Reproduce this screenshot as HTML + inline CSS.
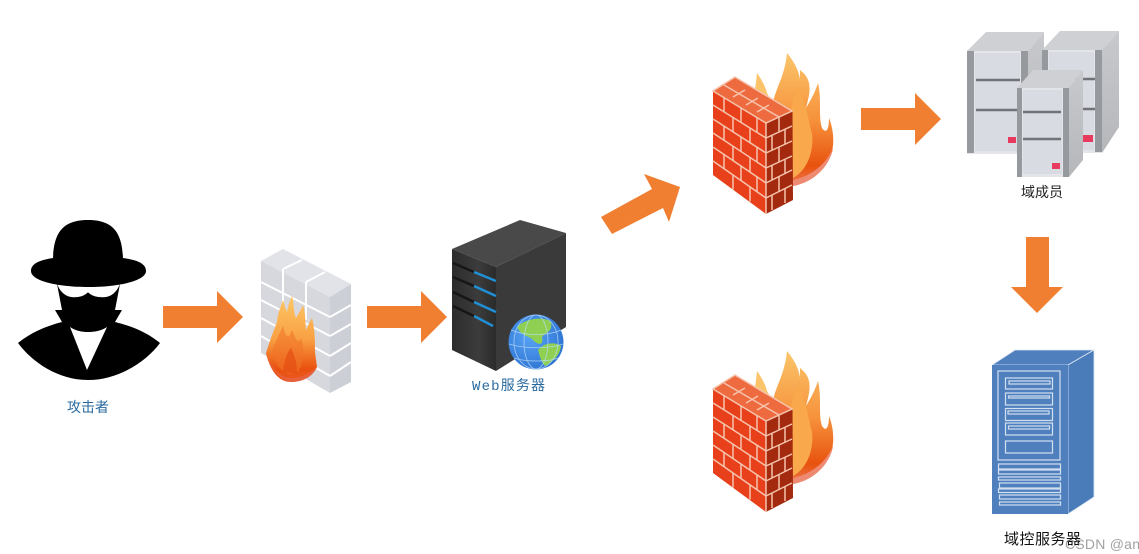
<!DOCTYPE html>
<html><head><meta charset="utf-8"><style>
html,body{margin:0;padding:0;background:#fff}
svg{display:block}
text{font-family:"Liberation Sans","WenQuanYi Zen Hei","Noto Sans CJK SC",sans-serif}
</style></head><body>
<svg width="1139" height="554" viewBox="0 0 1139 554" xmlns="http://www.w3.org/2000/svg">
<defs>
<linearGradient id="fl" x1="0" y1="0" x2="0" y2="1"><stop offset="0" stop-color="#fdc866"/><stop offset=".5" stop-color="#f9a043"/><stop offset=".85" stop-color="#e9500f"/><stop offset="1" stop-color="#ea5a22"/></linearGradient>
<linearGradient id="fl2" x1="0" y1="0" x2="0" y2="1"><stop offset="0" stop-color="#fbc56a"/><stop offset=".5" stop-color="#f6923c"/><stop offset=".85" stop-color="#e8520f"/><stop offset="1" stop-color="#ee7a50"/></linearGradient>
<linearGradient id="srvf" x1="0" y1="0" x2="1" y2="0"><stop offset="0" stop-color="#2c2c2c"/><stop offset=".6" stop-color="#3c3c3c"/><stop offset="1" stop-color="#2b2b2b"/></linearGradient>
<linearGradient id="side" x1="0" y1="0" x2="0" y2="1"><stop offset="0" stop-color="#c8c9cc"/><stop offset="1" stop-color="#b6b7ba"/></linearGradient>
<radialGradient id="glb" cx=".4" cy=".4" r=".7"><stop offset="0" stop-color="#59a4f5"/><stop offset="1" stop-color="#2a70d0"/></radialGradient>
<g id="brick">
<path d="M750 112C752 100 755 95 757 73C762 80 766 88 767 93L771 100 770 112Z" fill="#fbc46a"/>
<path d="M772 120C770 92 784 84 787 53C796 64 802 76 800 90L800 70C808 76 812 84 808 100L806 108C812 98 815 92 818 83C822 100 818 116 822 128C826 134 829 130 829 118C834 130 834 145 832 150L833 148C830 165 815 182 793 186L780 150Z" fill="url(#fl2)"/>
<path d="M790 115C792 100 796 92 798 85C806 104 808 118 812 134C814 150 808 170 793 178Z" fill="#f9a84c"/>
<path d="M833 148C830 165 815 182 793 186L793 180C812 176 826 164 833 148Z" fill="#ef8a72"/>
<path d="M713 91L735 77 792 111 766 123Z" fill="#ee6b3f"/>
<path d="M713 91L766 123V214L713 175Z" fill="#e8401a"/>
<path d="M766 123L792.500 111 793 200 766 214Z" fill="#a32a0e"/>
<g stroke="#f6c3ac" stroke-width="1.500" fill="none">
<path d="M713 91L735 77 792 111 766 123ZM766 123V214M724 85L779 117M733 97L745 90M746 105L758 98M757 112L769 105"/>
<path d="M713 105L766 138M713 119L766 153M713 133L766 168M713 147L766 183M713 161L766 198"/>
<path d="M766 138L792 126M766 153L792 141M766 168L792 156M766 183L792 170M766 198L792 185"/>
<path d="M724 97.600V111.800M741 107.900V122.400M757 117.600V132.400M733 117.500V131.900M750 128V142.700M724 126V140.200M741 136.900V151.400M757 147.200V162M733 146.300V160.700M750 157.400V172.100M724 154.400V168.600M741 165.900V180.400M757 176.800V191.600M733 175.100V189.500M750 186.800V201.500"/>
<path d="M779 117V132M772 135V150M785 129.500V144M779 147V162M772 165V180M785 159V174M779 177V192M772 195V210M785 189V203"/>
</g>
</g>
<path id="a" d="M0 15H54V0L80 26 54 52V37H0Z" fill="#f07f32"/>
</defs>

<!-- arrows -->
<use href="#a" x="163" y="291"/>
<use href="#a" x="367" y="291"/>
<use href="#a" x="861" y="93"/>
<path d="M601 217L652 189 644 174 680 187 669 222 663 208 612 234Z" fill="#f07f32"/>
<path d="M1026 237H1049V287H1063L1037 313 1011 287H1026Z" fill="#f07f32"/>

<!-- attacker -->
<path d="M57 284L62 310H55L62 322C46 326 30 333 18 343C32 362 58 380 88 380C118 380 146 362 160 343C148 333 132 326 115 322L122 310H115L120 284Z" fill="#000"/>
<path d="M57 283C60 292 66 297 74 297C81 297 85 295 88 292C91 295 95 297 103 297C111 297 117 292 120 283L88 280Z" fill="#fff" stroke="#fff" stroke-width=".5"/>
<path d="M70 327C76 331 82 332 88 332C94 332 101 331 107 327L87 370Z" fill="#fff"/>
<path d="M53 258C54 236 60 220 88 220C116 220 122 236 123 258C136 260 146 263 146 271C146 281 118 287 88 287C58 287 31 281 31 271C31 263 41 260 53 258Z" fill="#000"/>

<!-- grey firewall -->
<path d="M261 261L283 249 351 284 330 297Z" fill="#e2e3e8"/>
<path d="M261 261L330 297V393L261 353Z" fill="#d6d8de"/>
<path d="M330 297L351 284V382L330 393Z" fill="#cdcfd6"/>
<g stroke="#fff" stroke-width="2" fill="none">
<path d="M261 282L330 317M261 300L330 336M261 318L330 356M261 336L330 376"/>
<path d="M330 317L351 305M330 336L351 324M330 356L351 343M330 376L351 362"/>
<path d="M283 269V303M306 282V320M283 269L302 260M306 282L325 272"/>
</g>
<path d="M266 353C270 340 274 330 277 322C278 312 281 306 283 300C285 306 286 310 287 312C288 306 290 300 292 296C294 302 293 310 296 318C298 314 301 310 303 305C306 315 305 322 306 330C308 326 310 321 312 318C315 330 315 342 315 352L317 367C310 376 302 382 291 382C278 382 270 370 266 353Z" fill="url(#fl)"/>
<path d="M272 352C275 342 279 335 283 326C285 335 288 342 292 330C296 340 298 345 301 338C305 350 304 362 298 372C288 378 276 370 272 352Z" fill="#f0752a" opacity=".6"/>
<path d="M283 372C284 362 287 352 291 348C295 356 297 364 297 374Z" fill="#e2480f" opacity=".6"/>
<path d="M266 353C269 368 280 380 291 382C304 382 313 376 317 367C310 373 302 378 291 378C280 378 271 368 266 353Z" fill="#e6603c"/>

<!-- web server -->
<path d="M452 249L520 220 566 233 496 267Z" fill="#494949"/>
<path d="M452 249L496 267V371L452 350Z" fill="url(#srvf)"/>
<path d="M496 267L566 233V327L496 371Z" fill="#3a3a3a"/>
<g stroke-width="2.500" fill="none">
<g stroke="#161616"><path d="M453 263L474 272M453 277L474 286M453 292L474 302M453 306L474 316"/></g>
<g stroke="#1f8fd6"><path d="M474 272L496 281M474 286L496 296M474 302L496 312M474 316L493 326"/></g>
</g>
<circle cx="536" cy="342" r="27.500" fill="url(#glb)"/>
<path d="M517 327C525 318 545 316 551 322C553 332 546 332 542 337C544 347 537 345 531 338C526 336 520 334 517 327Z" fill="#8fd052"/>
<path d="M538 350C544 342 556 342 561 346C560 356 552 362 545 366C540 360 540 356 538 350Z" fill="#8fd052"/>
<g stroke="#bcdcfb" stroke-width=".8" fill="none" opacity=".8">
<ellipse cx="536" cy="342" rx="12" ry="27"/><ellipse cx="536" cy="342" rx="22" ry="27"/><path d="M511 330C525 336 548 336 561 330M509 344C525 349 548 349 563 344M514 358C525 362 548 362 558 358"/>
</g>

<!-- brick firewalls -->
<use href="#brick"/>
<use href="#brick" y="298"/>

<!-- member servers -->
<g>
<path d="M967 51L986 32H1044L1028 51Z" fill="#cfd0d3"/>
<path d="M1028 51L1044 32V132L1028 153Z" fill="url(#side)"/>
<rect x="967" y="51" width="61" height="103" fill="#e4e5e9"/>
<rect x="967" y="51" width="7" height="102" fill="#96999d"/>
<rect x="1021" y="51" width="7" height="102" fill="#96999d"/>
<rect x="975" y="53" width="45" height="98" fill="#d9dbe2"/>
<path d="M976 80H1020M976 110H1020" stroke="#717378" stroke-width="2.500"/>
<rect x="1008" y="137" width="8" height="6" fill="#e8395f"/>
</g>
<g>
<path d="M1042 50L1060 31H1119L1102 50Z" fill="#cfd0d3"/>
<path d="M1102 50L1119 31V127L1102 153Z" fill="url(#side)"/>
<rect x="1042" y="50" width="60" height="103" fill="#e4e5e9"/>
<rect x="1042" y="50" width="6" height="102" fill="#96999d"/>
<rect x="1095" y="50" width="7" height="102" fill="#96999d"/>
<rect x="1049" y="52" width="45" height="98" fill="#d9dbe2"/>
<path d="M1049 79H1095M1049 109H1095" stroke="#717378" stroke-width="2.500"/>
<rect x="1083" y="135" width="10" height="7" fill="#e8395f"/>
</g>
<g>
<path d="M1017 88L1033 70H1083L1069 88Z" fill="#cfd0d3"/>
<path d="M1069 88L1083 70V160L1069 177Z" fill="url(#side)"/>
<rect x="1017" y="88" width="52" height="89" fill="#e4e5e9"/>
<rect x="1017" y="88" width="5" height="89" fill="#96999d"/>
<rect x="1063" y="88" width="6" height="89" fill="#96999d"/>
<rect x="1023" y="90" width="39" height="84" fill="#d9dbe2"/>
<path d="M1023 112H1061M1023 139H1061" stroke="#717378" stroke-width="2.500"/>
<rect x="1052" y="163" width="8" height="6" fill="#e8395f"/>
</g>

<!-- DC server -->
<path d="M992 365L1015 350H1094L1068 365Z" fill="#4f80bd" stroke="#dce6f3" stroke-width=".8"/>
<path d="M1068 365L1094 350V497L1068 514Z" fill="#4a7cb9" stroke="#dce6f3" stroke-width=".8"/>
<rect x="992" y="365" width="76" height="149" fill="#4f80bd"/>
<g fill="none" stroke="#d3dff0" stroke-width="1.200">
<rect x="998" y="371" width="62" height="89"/>
<rect x="1005.500" y="378" width="47" height="11"/><rect x="1009" y="381" width="41" height="3"/>
<rect x="1005.500" y="393" width="47" height="12"/><rect x="1008.500" y="396" width="41" height="2"/>
<rect x="1005.500" y="408.500" width="47" height="12"/><rect x="1008" y="411" width="41" height="3"/>
<rect x="1005.500" y="423" width="47" height="12"/><rect x="1008.500" y="426" width="41" height="3"/>
<rect x="1005.500" y="441" width="47" height="12"/>
<rect x="998.500" y="464" width="62" height="5"/><rect x="998.500" y="470" width="62" height="4"/>
<rect x="998.500" y="477" width="62" height="3"/><rect x="999.500" y="483" width="61" height="5"/>
<rect x="998.500" y="489" width="62" height="3.500"/><rect x="999.500" y="495" width="61" height="4"/>
<rect x="999.500" y="502" width="61" height="3"/>
</g>

<!-- labels -->
<text x="88" y="412" font-size="14" fill="#2a6a9e" text-anchor="middle">攻击者</text>
<text x="472" y="390" font-size="14" fill="#2a6a9e" style="font-family:'Liberation Mono','WenQuanYi Zen Hei',monospace" textLength="73">Web服务器</text>
<text x="1042" y="197" font-size="14" fill="#222" text-anchor="middle">域成员</text>
<text x="1004" y="544" font-size="15" fill="#111" textLength="77">域控服务器</text>
<text x="1065" y="549" font-size="14" fill="#8a8a8a" fill-opacity=".8" textLength="75">CSDN @an</text>
</svg>
</body></html>
